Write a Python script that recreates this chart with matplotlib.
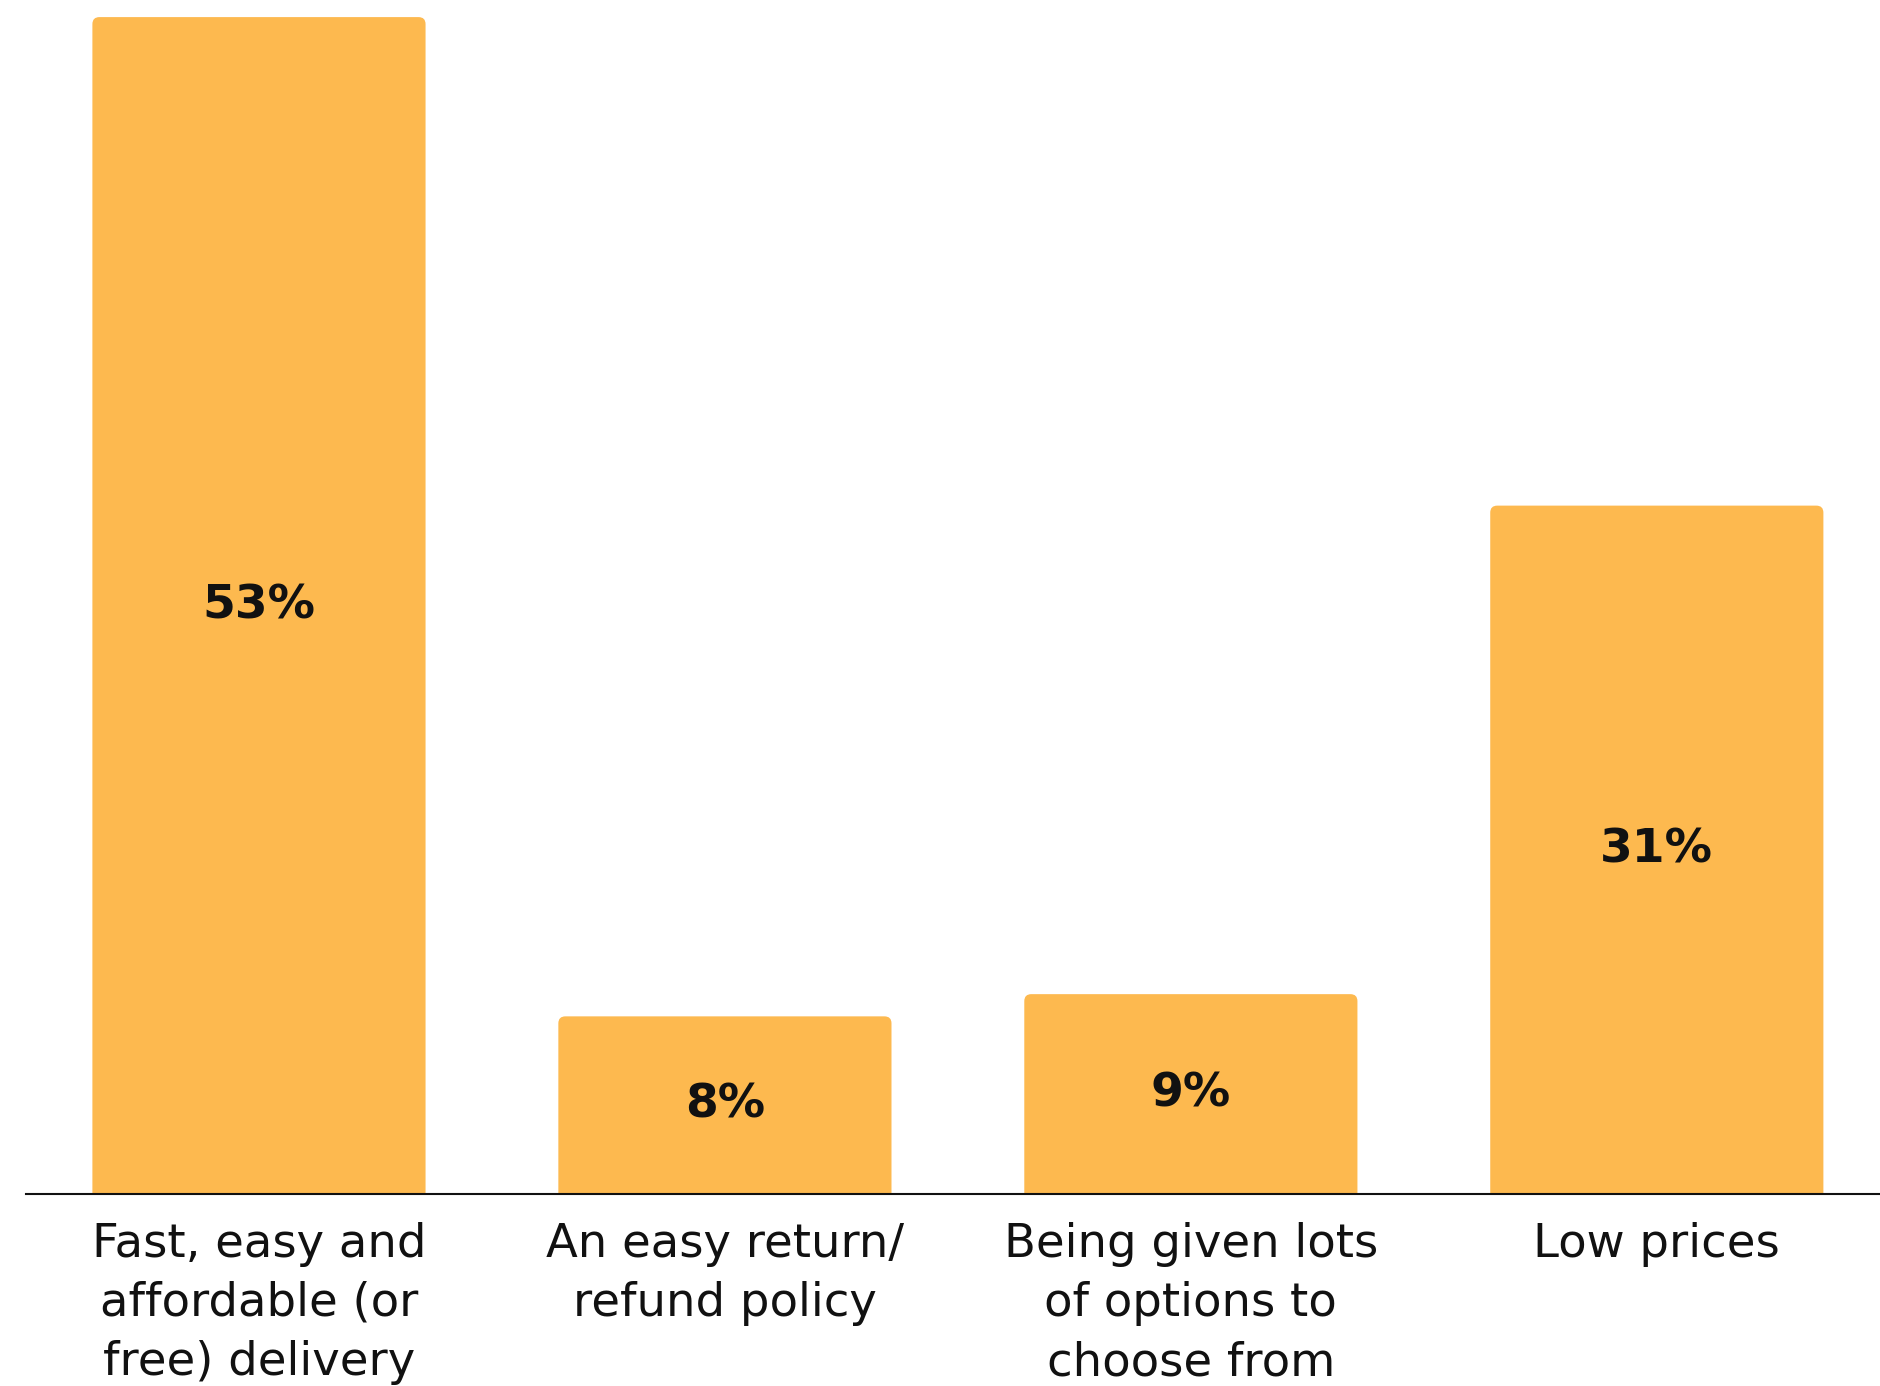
import matplotlib
matplotlib.use("Agg")
import matplotlib.pyplot as plt
from matplotlib.patches import FancyBboxPatch
from matplotlib.transforms import blended_transform_factory

# Survey results: share of respondents choosing each factor
categories = [
    ["Fast, easy and", "affordable (or", "free) delivery"],
    ["An easy return/", "refund policy"],
    ["Being given lots", "of options to", "choose from"],
    ["Low prices"],
]
values = [53, 8, 9, 31]
value_labels = ["53%", "8%", "9%", "31%"]

BAR_COLOR = "#FDB94F"
FONT = ["DejaVu Sans"]

W, H, DPI = 1880, 1386, 100
fig = plt.figure(figsize=(W / DPI, H / DPI), dpi=DPI)
fig.patch.set_facecolor("white")

# axes: baseline sits at y=1194 px, left end of baseline at x=26 px
base_px = 1194
ax = fig.add_axes([26 / W, (H - base_px) / H, 1 - 26 / W, base_px / H])
ax.set_xlim(-0.5, 3.479)
ax.set_ylim(0, 53.77)
ax.set_facecolor("none")

bar_width = 0.715
x = list(range(len(values)))
bars = ax.bar(x, values, width=bar_width, color=BAR_COLOR)

# replace the plain rectangles with ones that have rounded top corners
px_per_x = (W - 26) / (3.479 + 0.5)
px_per_y = base_px / 53.77
aspect = px_per_x / px_per_y
radius_px = 7
for rect in bars:
    x0, y0 = rect.get_x(), rect.get_y()
    w, h = rect.get_width(), rect.get_height()
    rect.set_visible(False)
    pad_below = 1.0  # pushed below the baseline and clipped away
    patch = FancyBboxPatch(
        (x0, y0 - pad_below), w, h + pad_below,
        boxstyle=f"round,pad=0,rounding_size={radius_px / px_per_x}",
        mutation_aspect=aspect,
        facecolor=BAR_COLOR, edgecolor="none", linewidth=0,
        clip_on=True, zorder=2,
    )
    ax.add_patch(patch)

# value labels in the middle of each bar
for xi, v, lab in zip(x, values, value_labels):
    ax.text(xi, v / 2, lab, ha="center", va="center",
            fontsize=34, fontweight="bold", family=FONT,
            color="#111111", zorder=3)

# spines / ticks
for side in ["left", "right", "top"]:
    ax.spines[side].set_visible(False)
ax.spines["bottom"].set_linewidth(1.5)
ax.spines["bottom"].set_color("#111111")
ax.set_xticks([])
ax.set_yticks([])

# category labels, one line at a time on fixed baselines
trans = blended_transform_factory(ax.transData, fig.transFigure)
baselines = [1257, 1316, 1375]
for xi, lines in zip(x, categories):
    for line, b in zip(lines, baselines):
        ax.text(xi, 1 - b / H, line, transform=trans, ha="center",
                va="baseline", fontsize=33.5, family=FONT, color="#111111",
                clip_on=False)

fig.savefig("out.png", dpi=DPI)
